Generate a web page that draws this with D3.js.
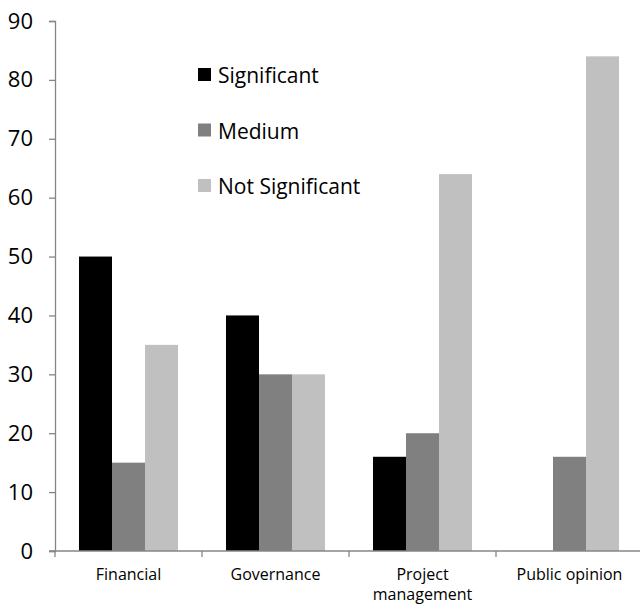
<!DOCTYPE html>
<html>
<head>
<meta charset="utf-8">
<script src="https://cdn.jsdelivr.net/npm/d3@7"></script>
<style>
  html, body { margin: 0; padding: 0; background: #fff; }
  svg { display: block; font-family: "Open Sans", Lato, sans-serif; }
</style>
</head>
<body>
<svg id="chart" width="640" height="605"></svg>
<script>
// Categories and series
const categories = ["Financial", "Governance", "Project management", "Public opinion"];
const seriesNames = ["Significant", "Medium", "Not Significant"];
const significant = [50, 40, 16, 0];
const medium = [15, 30, 20, 16];
const notSignificant = [35, 30, 64, 84];
const yTicks = [0, 10, 20, 30, 40, 50, 60, 70, 80, 90];
const colors = ["#000000", "#808080", "#c0c0c0"];

const seriesValues = [significant, medium, notSignificant];

const svg = d3.select("#chart");
const W = 640, H = 605;
const plotLeft = 55, plotRight = 643, plotTop = 21, plotBottom = 551;

const x0 = d3.scaleBand().domain(categories).range([plotLeft, plotRight]).padding(0);
const x1 = d3.scaleBand().domain(seriesNames).range([0, x0.bandwidth()])
  .paddingInner(0).paddingOuter(0.727);
const y = d3.scaleLinear().domain([0, 90]).range([plotBottom, plotTop]);

// Bars
const groups = svg.append("g").selectAll("g")
  .data(categories)
  .join("g")
  .attr("transform", d => `translate(${x0(d)},0)`);

groups.selectAll("rect")
  .data((c, i) => seriesNames.map((s, k) => ({ s, k, v: seriesValues[k][i] })))
  .join("rect")
  .attr("x", d => x1(d.s))
  .attr("width", x1.bandwidth())
  .attr("y", d => y(d.v))
  .attr("height", d => y(0) - y(d.v))
  .attr("fill", d => colors[d.k]);

// Y axis
const yAxis = d3.axisLeft(y).tickValues(yTicks).tickSize(6).tickPadding(16);
const yg = svg.append("g").attr("transform", `translate(${plotLeft},0)`).call(yAxis)
  .attr("font-size", 22).attr("font-family", "'Open Sans', sans-serif");
yg.select(".domain").attr("stroke", "#868686").attr("stroke-width", 1.3);
yg.selectAll(".tick line").attr("stroke", "#868686").attr("stroke-width", 1.3);
yg.selectAll(".tick text").attr("fill", "#000");

// X axis
const xg = svg.append("g").attr("transform", `translate(0,${plotBottom})`);
xg.append("line").attr("x1", plotLeft - 6).attr("x2", W).attr("y1", 0).attr("y2", 0)
  .attr("stroke", "#868686").attr("stroke-width", 1.3);
const boundaries = categories.map(c => x0(c)).concat([x0.range()[1]]);
xg.selectAll("line.tk").data(boundaries).join("line").attr("class", "tk")
  .attr("x1", d => d).attr("x2", d => d).attr("y1", 0).attr("y2", 6)
  .attr("stroke", "#868686").attr("stroke-width", 1.3);

// Category labels with word wrapping
const maxW = 125;
xg.selectAll("text.cat").data(categories).join("text").attr("class", "cat")
  .attr("x", d => x0(d) + x0.bandwidth() / 2)
  .attr("y", 29)
  .attr("text-anchor", "middle")
  .attr("font-size", 16)
  .attr("fill", "#000")
  .each(function(d) {
    const t = d3.select(this);
    const words = d.split(" ");
    let line = [];
    let tspan = t.append("tspan").attr("x", t.attr("x")).attr("dy", 0);
    for (const w of words) {
      line.push(w);
      tspan.text(line.join(" "));
      if (tspan.node().getComputedTextLength() > maxW && line.length > 1) {
        line.pop();
        tspan.text(line.join(" "));
        line = [w];
        tspan = t.append("tspan").attr("x", t.attr("x")).attr("dy", 20).text(w);
      }
    }
  });

// Legend
const legend = svg.append("g").selectAll("g")
  .data(seriesNames)
  .join("g")
  .attr("transform", (d, i) => `translate(198,${68 + i * 55.5})`);
legend.append("rect").attr("width", 13).attr("height", 13)
  .attr("fill", (d, i) => colors[i]);
legend.append("text").attr("x", 20).attr("y", 15)
  .attr("font-size", 21).attr("fill", "#000").text(d => d);
</script>
</body>
</html>
